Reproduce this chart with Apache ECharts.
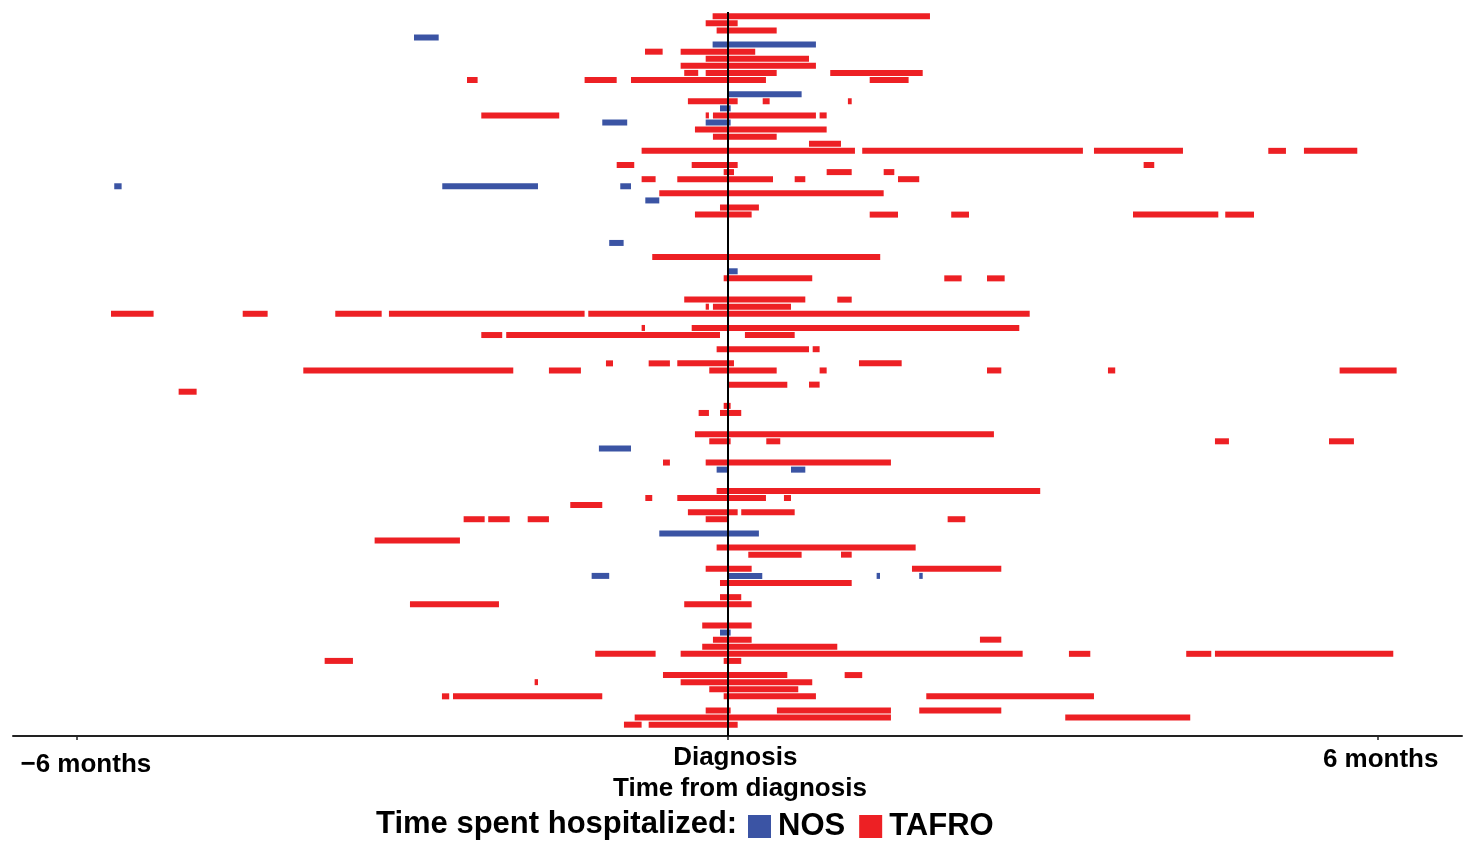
<!DOCTYPE html>
<html>
<head>
<meta charset="utf-8">
<script src="https://cdn.jsdelivr.net/npm/echarts@6/dist/echarts.min.js"></script>
<style>
html,body{margin:0;padding:0;background:#fff;}
#chart{width:1465px;height:843px;}
</style>
</head>
<body>
<div id="chart"></div>
<script>
// Hospital stays: [patient row, start (months from diagnosis), end (months from diagnosis)]
const tafroStays = [
[0,-0.135,1.870],
[1,-0.199,0.096],
[2,-0.098,0.456],
[5,-0.759,-0.596],[5,-0.430,0.258],
[6,-0.199,0.754],
[7,-0.430,0.818],
[8,-0.397,-0.268],[8,-0.199,0.456],[8,0.950,1.803],
[9,-2.401,-2.303],[9,-1.316,-1.020],[9,-0.888,0.357],[9,1.314,1.673],
[12,-0.363,0.096],[12,0.327,0.391],[12,1.113,1.148],
[14,-2.269,-1.550],[14,-0.199,-0.169],[14,-0.132,0.818],[14,0.852,0.917],
[16,-0.298,0.917],
[17,-0.132,0.456],
[18,0.754,1.049],
[19,-0.790,1.178],[19,1.245,3.281],[19,3.383,4.204],[19,4.991,5.154],[19,5.320,5.812],
[21,-1.020,-0.858],[21,-0.328,0.096],[21,3.841,3.939],
[22,-0.033,0.062],[22,0.917,1.148],[22,1.443,1.541],
[23,-0.790,-0.661],[23,-0.461,0.422],[23,0.622,0.720],[23,1.575,1.771],
[25,-0.627,1.443],
[27,-0.067,0.292],
[28,-0.298,0.225],[28,1.314,1.575],[28,2.066,2.230],[28,3.743,4.530],[28,4.594,4.859],
[34,-0.692,1.411],
[37,-0.033,0.784],[37,2.002,2.162],[37,2.396,2.559],
[40,-0.397,0.720],[40,1.015,1.148],
[41,-0.199,-0.169],[41,-0.132,0.588],
[42,-5.685,-5.292],[42,-4.470,-4.240],[42,-3.616,-3.188],[42,-3.121,-1.316],[42,-1.282,2.790],
[44,-0.790,-0.759],[44,-0.328,2.694],
[45,-2.269,-2.076],[45,-2.039,-0.067],[45,0.163,0.622],
[47,-0.098,0.754],[47,0.788,0.852],
[49,-1.119,-1.054],[49,-0.725,-0.529],[49,-0.461,0.062],[49,1.215,1.609],
[50,-3.911,-1.974],[50,-1.645,-1.350],[50,-0.166,0.456],[50,0.852,0.917],[50,2.396,2.528],[50,3.512,3.579],[50,5.649,6.175],
[52,0,0.554],[52,0.754,0.852],
[53,-5.061,-4.895],
[55,-0.033,0.031],
[56,-0.264,-0.169],[56,-0.067,0.129],
[59,-0.298,2.460],
[60,-0.166,0.031],[60,0.360,0.489],[60,4.499,4.628],[60,5.551,5.781],
[63,-0.593,-0.529],[63,-0.199,1.510],
[67,-0.098,2.887],
[68,-0.756,-0.692],[68,-0.461,0.357],[68,0.523,0.588],
[69,-1.448,-1.153],
[70,-0.363,0.096],[70,0.129,0.622],
[71,-2.432,-2.238],[71,-2.205,-2.007],[71,-1.841,-1.645],[71,-0.199,0],[71,2.033,2.196],
[74,-3.253,-2.466],
[75,-0.098,1.738],
[76,0.194,0.686],[76,1.049,1.148],
[78,-0.199,0.225],[78,1.704,2.528],
[80,-0.067,1.148],
[82,-0.067,0.129],
[83,-2.927,-2.106],[83,-0.397,0.225],
[86,-0.231,0.225],
[88,-0.132,0.225],[88,2.331,2.528],
[89,-0.231,1.015],
[90,-1.218,-0.661],[90,-0.430,2.725],[90,3.152,3.349],[90,4.234,4.465],[90,4.499,6.144],
[91,-3.714,-3.453],[91,-0.033,0.129],
[93,-0.593,0.554],[93,1.083,1.245],
[94,-1.777,-1.746],[94,-0.430,0.784],
[95,-0.166,0.655],
[96,-2.632,-2.565],[96,-2.530,-1.153],[96,-0.033,0.818],[96,1.836,3.383],
[98,-0.199,0.031],[98,0.458,1.510],[98,1.771,2.528],
[99,-0.854,1.510],[99,3.118,4.271],
[100,-0.953,-0.790],[100,-0.725,0.096]
];
const nosStays = [
[3,-2.890,-2.662],
[4,-0.135,0.818],
[11,0,0.686],
[13,-0.067,0.031],
[15,-1.153,-0.923],[15,-0.199,0.031],
[24,-5.655,-5.587],[24,-2.629,-1.746],[24,-0.987,-0.888],
[26,-0.756,-0.627],
[32,-1.089,-0.956],
[36,0,0.096],
[61,-1.184,-0.888],
[64,-0.098,0],[64,0.588,0.720],
[73,-0.627,0.292],
[79,-1.251,-1.089],[79,0,0.323],[79,1.378,1.409],[79,1.771,1.803],
[87,-0.067,0.031]
];
const tickValues = [-6, 0, 6];
const tickLabels = ['\u22126 months', 'Diagnosis', '6 months'];
const seriesNames = ['NOS', 'TAFRO'];

const FONT = '"Liberation Sans", Arial, Helvetica, sans-serif';
const RED = '#ED2024', BLUE = '#3B54A4';

function renderItem(params, api) {
  const row = api.value(0);
  const p0 = api.coord([api.value(1), row]);
  const p1 = api.coord([api.value(2), row]);
  const h = 6;
  return {
    type: 'rect',
    shape: { x: p0[0], y: p0[1] - h / 2, width: Math.max(p1[0] - p0[0], 1), height: h },
    style: { fill: api.visual('color') }
  };
}

const chart = echarts.init(document.getElementById('chart'), null, { renderer: 'canvas' });
chart.setOption({
  animation: false,
  backgroundColor: '#fff',
  title: {
    text: 'Time spent hospitalized:',
    left: 376, top: 809, padding: 0,
    textStyle: { fontFamily: FONT, fontSize: 31, fontWeight: 'bold', color: '#000' }
  },
  legend: {
    data: seriesNames.map(n => ({ name: n, icon: 'rect' })),
    left: 748, top: 811, padding: 0,
    itemWidth: 23, itemHeight: 23, itemGap: 14,
    textStyle: { fontFamily: FONT, fontSize: 31, fontWeight: 'bold', color: '#000', padding: [5, 0, 0, 2] },
    selectedMode: false
  },
  grid: { left: 13, right: 3, top: 12, bottom: 107, containLabel: false },
  xAxis: {
    type: 'value',
    min: -6.589, max: 6.778,
    splitLine: { show: false },
    axisLine: { show: true, onZero: false, lineStyle: { color: '#222', width: 2 } },
    axisTick: { show: true, customValues: tickValues, length: 4, lineStyle: { color: '#222', width: 1.5 } },
    axisLabel: {
      customValues: tickValues,
      margin: 9,
      fontFamily: FONT, fontSize: 26, fontWeight: 'bold', color: '#000',
      formatter: function (v) {
        const i = tickValues.indexOf(Math.round(v));
        const key = ['a', 'b', 'c'][i];
        return '{' + key + '|' + tickLabels[i] + '}';
      },
      rich: {
        a: { fontFamily: FONT, fontSize: 26, fontWeight: 'bold', color: '#000', padding: [7, 0, 0, 18] },
        b: { fontFamily: FONT, fontSize: 26, fontWeight: 'bold', color: '#000', padding: [0, 0, 0, 16] },
        c: { fontFamily: FONT, fontSize: 26, fontWeight: 'bold', color: '#000', padding: [2, 0, 0, 6] }
      }
    },
    name: 'Time from diagnosis',
    nameLocation: 'middle',
    nameGap: 40,
    nameMoveOverlap: false,
    nameTextStyle: { fontFamily: FONT, fontSize: 26, fontWeight: 'bold', color: '#000', padding: [0, 0, 0, 5] }
  },
  yAxis: {
    type: 'value', inverse: true, min: -0.6, max: 101.6,
    show: false, splitLine: { show: false }
  },
  series: [
    {
      name: 'NOS', type: 'custom', renderItem: renderItem,
      itemStyle: { color: BLUE },
      encode: { x: [1, 2], y: 0 },
      data: nosStays, z: 2
    },
    {
      name: 'TAFRO', type: 'custom', renderItem: renderItem,
      itemStyle: { color: RED },
      encode: { x: [1, 2], y: 0 },
      data: tafroStays, z: 2,
      markLine: {
        silent: true, symbol: 'none', animation: false,
        label: { show: false },
        lineStyle: { color: '#000', width: 2, type: 'solid' },
        data: [{ xAxis: 0 }],
        z: 5
      }
    }
  ]
});
</script>
</body>
</html>
